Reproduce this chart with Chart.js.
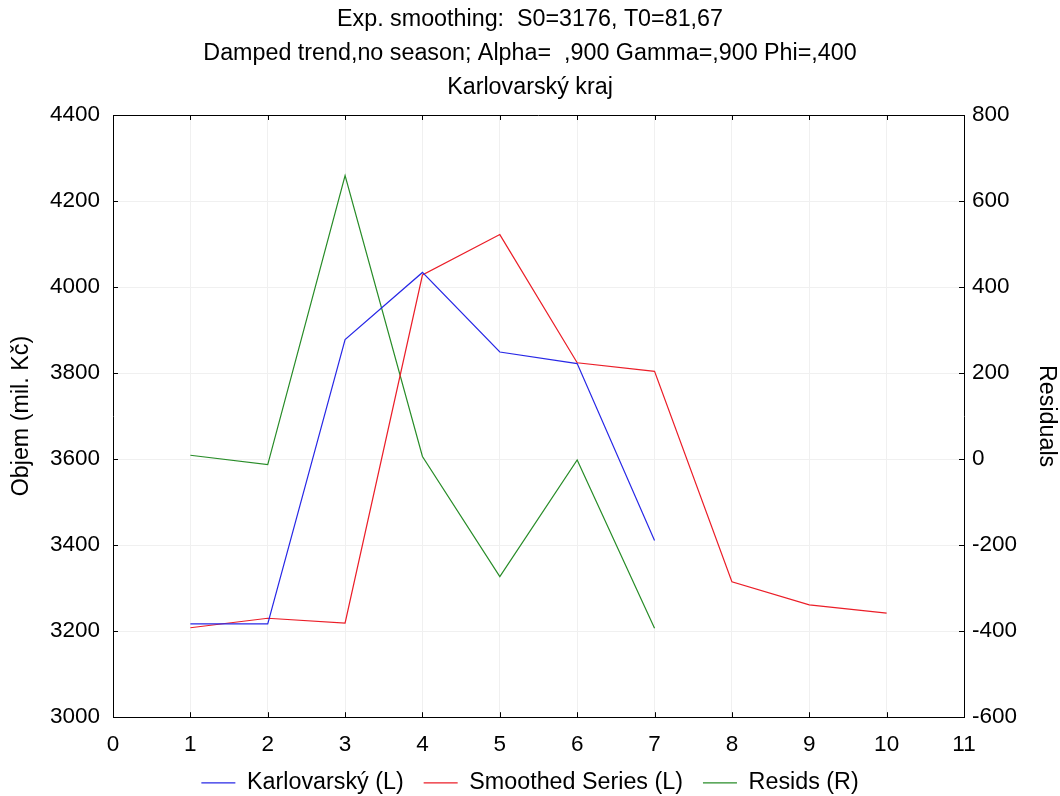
<!DOCTYPE html>
<html>
<head>
<meta charset="utf-8">
<script src="https://cdn.jsdelivr.net/npm/chart.js@4.4.1/dist/chart.umd.min.js"></script>
<style>
  html, body { margin: 0; padding: 0; background: #fff; }
  #wrap { width: 1060px; height: 796px; }
</style>
</head>
<body>
<div id="wrap"><canvas id="myChart" width="1060" height="796"></canvas></div>
<script>
// values
const periods = [1, 2, 3, 4, 5, 6, 7, 8, 9, 10];
const karlovarsky = [3217, 3217, 3878, 4034, 3849, 3822, 3411];
const smoothed = [3208, 3230, 3219, 4028, 4122, 3824, 3804, 3315, 3261, 3242];
const resids = [9, -13, 659, 6, -273, -2, -393];

const titleLines = [
    'Exp. smoothing:  S0=3176, T0=81,67',
    'Damped trend,no season; Alpha=  ,900 Gamma=,900 Phi=,400',
    'Karlovarský kraj'
];

const FONT = "'Liberation Sans', Arial, sans-serif";
const tickFont = { family: FONT, size: 22.5 };
const textFont = { family: FONT, size: 23.3 };

function toPoints(values) {
    return values.map(function(v, i) { return { x: periods[i], y: v }; });
}

// plain numbers, no thousands separator
function plain(value) { return String(value); }

// frame on top + small inward tick marks, like the original plot
const framePlugin = {
    id: 'frame',
    afterLayout: function(chart) {
        // x axis box is kept short so the legend sits close; let its labels draw below it
        chart.scales.x.bottom = chart.height;
    },
    afterDraw: function(chart) {
        const ctx = chart.ctx;
        const a = chart.chartArea;
        const sx = chart.scales.x, yl = chart.scales.yL, yr = chart.scales.yR;
        ctx.save();
        ctx.strokeStyle = '#000';
        ctx.lineWidth = 1;
        ctx.beginPath();
        ctx.moveTo(a.left, a.top + 0.5);
        ctx.lineTo(a.right, a.top + 0.5);
        sx.ticks.forEach(function(t) {
            const px = Math.round(sx.getPixelForValue(t.value)) + 0.5;
            ctx.moveTo(px, a.bottom); ctx.lineTo(px, a.bottom - 5);
            ctx.moveTo(px, a.top); ctx.lineTo(px, a.top + 5);
        });
        yl.ticks.forEach(function(t) {
            const py = Math.round(yl.getPixelForValue(t.value)) + 0.5;
            ctx.moveTo(a.left, py); ctx.lineTo(a.left + 5, py);
        });
        yr.ticks.forEach(function(t) {
            const py = Math.round(yr.getPixelForValue(t.value)) + 0.5;
            ctx.moveTo(a.right, py); ctx.lineTo(a.right - 5, py);
        });
        ctx.stroke();
        ctx.restore();
    }
};

const ctx = document.getElementById('myChart').getContext('2d');
window.myChart = new Chart(ctx, {
    type: 'line',
    data: {
        datasets: [{
            label: 'Karlovarský (L)',
            data: toPoints(karlovarsky),
            borderColor: 'rgb(40, 40, 230)',
            backgroundColor: 'rgb(40, 40, 230)',
            borderWidth: 1.2,
            yAxisID: 'yL'
        }, {
            label: 'Smoothed Series (L)',
            data: toPoints(smoothed),
            borderColor: 'rgb(235, 30, 40)',
            backgroundColor: 'rgb(235, 30, 40)',
            borderWidth: 1.2,
            yAxisID: 'yL'
        }, {
            label: 'Resids (R)',
            data: toPoints(resids),
            borderColor: 'rgb(40, 140, 40)',
            backgroundColor: 'rgb(40, 140, 40)',
            borderWidth: 1.2,
            yAxisID: 'yR'
        }]
    },
    options: {
        responsive: false,
        animation: false,
        elements: { point: { radius: 0 }, line: { tension: 0 } },
        layout: { padding: { left: 0, right: 0, top: 0, bottom: -8.5 } },
        plugins: {
            title: {
                display: true,
                text: titleLines,
                color: '#000',
                font: { family: FONT, size: 23.3, weight: 'normal', lineHeight: 34 / 23.3 },
                padding: { top: 3, bottom: 10 }
            },
            legend: {
                position: 'bottom',
                labels: {
                    color: '#000',
                    font: textFont,
                    usePointStyle: true,
                    pointStyle: 'line',
                    pointStyleWidth: 34,
                    padding: 20
                }
            },
            tooltip: { enabled: false }
        },
        scales: {
            x: {
                type: 'linear',
                min: 0,
                max: 11,
                ticks: { stepSize: 1, color: '#000', padding: 14, font: tickFont, callback: plain },
                grid: { color: '#f0f0f0', drawTicks: false },
                border: { color: '#000', width: 1 },
                afterFit: function(scale) { scale.height = 34; }
            },
            yL: {
                type: 'linear',
                position: 'left',
                min: 3000,
                max: 4400,
                ticks: { stepSize: 200, color: '#000', padding: 13, font: tickFont, callback: plain },
                grid: { color: '#f0f0f0', drawTicks: false },
                border: { color: '#000', width: 1 },
                title: {
                    display: true,
                    text: 'Objem (mil. Kč)',
                    color: '#000',
                    font: textFont,
                    padding: { top: 8, bottom: 0 }
                },
                afterFit: function(scale) { scale.width = 113; }
            },
            yR: {
                type: 'linear',
                position: 'right',
                min: -600,
                max: 800,
                ticks: { stepSize: 200, color: '#000', padding: 8, font: tickFont, callback: plain },
                grid: { drawOnChartArea: false, drawTicks: false },
                border: { color: '#000', width: 1 },
                title: {
                    display: true,
                    text: 'Residuals',
                    color: '#000',
                    font: textFont,
                    padding: { top: 0, bottom: 0 }
                },
                afterFit: function(scale) { scale.width = 96; }
            }
        }
    },
    plugins: [framePlugin]
});
</script>
</body>
</html>
